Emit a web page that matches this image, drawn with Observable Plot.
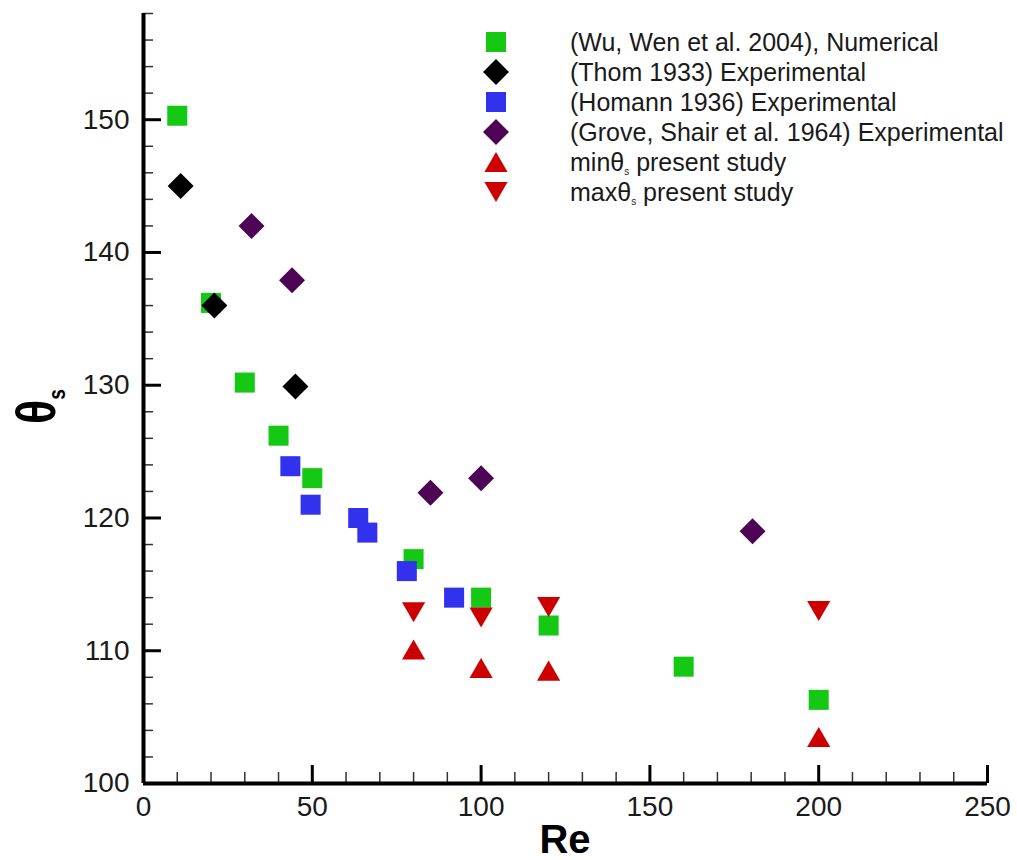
<!DOCTYPE html>
<html>
<head>
<meta charset="utf-8">
<script src="https://cdn.jsdelivr.net/npm/d3@7"></script>
<script src="https://cdn.jsdelivr.net/npm/@observablehq/plot@0.6"></script>
<style>
  html, body { margin: 0; padding: 0; background: #fff; }
  #wrap { position: relative; width: 1017px; height: 860px; }
</style>
</head>
<body>
<div id="wrap"></div>
<script>
// ---- data ----
const wuRe      = [10, 20, 30, 40, 50, 80, 100, 120, 160, 200];
const wuTheta   = [150.3, 136.2, 130.2, 126.2, 123.0, 116.9, 114.0, 111.9, 108.8, 106.3];
const thomRe    = [11, 21, 45];
const thomTheta = [145.0, 136.0, 129.9];
const homRe     = [43.5, 49.5, 63.6, 66.3, 78, 92];
const homTheta  = [123.9, 121.0, 120.0, 118.9, 116.0, 114.0];
const groveRe   = [32, 44, 85, 100, 180.4];
const groveTheta= [142.0, 137.9, 121.9, 123.0, 119.0];
const minRe     = [80, 100, 120, 200];
const minTheta  = [110.1, 108.7, 108.5, 103.5];
const maxRe     = [80, 100, 120, 200];
const maxTheta  = [112.9, 112.5, 113.3, 113.0];

const seriesNames = [
  "(Wu, Wen et al. 2004), Numerical",
  "(Thom 1933) Experimental",
  "(Homann 1936) Experimental",
  "(Grove, Shair et al. 1964) Experimental",
  "minθs present study",
  "maxθs present study"
];
const seriesColors = ["#14c814", "#000000", "#3232ee", "#4e0454", "#cc0000", "#cc0000"];

const xTickLabels = [0, 50, 100, 150, 200, 250];
const yTickLabels = [100, 110, 120, 130, 140, 150];
const xMinorTicks = d3.range(10, 250, 10).filter(v => v % 50 !== 0);
const yMinorTicks = d3.range(102, 159, 2).filter(v => v % 10 !== 0);
const xMajorTicks = [50, 100, 150, 200, 250];
const yMajorTicks = [110, 120, 130, 140, 150];

// ---- symbols ----
const triUp = {draw(ctx, size) {
  const a = Math.sqrt(4 * size / Math.sqrt(3)), h = a * Math.sqrt(3) / 2;
  ctx.moveTo(0, -h / 2); ctx.lineTo(a / 2, h / 2); ctx.lineTo(-a / 2, h / 2); ctx.closePath();
}};
const triDown = {draw(ctx, size) {
  const a = Math.sqrt(4 * size / Math.sqrt(3)), h = a * Math.sqrt(3) / 2;
  ctx.moveTo(0, h / 2); ctx.lineTo(a / 2, -h / 2); ctx.lineTo(-a / 2, -h / 2); ctx.closePath();
}};
const seriesSymbols = [d3.symbolSquare, d3.symbolDiamond2, d3.symbolSquare, d3.symbolDiamond2, triUp, triDown];
const seriesR = [11.3, 11.7, 11.3, 11.7, 8.6, 8.6];

const xs = [wuRe, thomRe, homRe, groveRe, minRe, maxRe];
const ys = [wuTheta, thomTheta, homTheta, groveTheta, minTheta, maxTheta];
const series = seriesNames.map((name, i) => ({
  name, color: seriesColors[i], symbol: seriesSymbols[i], r: seriesR[i],
  data: xs[i].map((x, j) => ({x, y: ys[i][j]}))
}));

// ---- layout ----
const W = 1017, H = 860;
const mL = 143, mR = 30, mT = 13, mB = 77;
const plotW = W - mL - mR, plotH = H - mT - mB;
const font = "'Liberation Sans', Arial, Helvetica, sans-serif";

const marks = [
  Plot.tickY(yMinorTicks, {y: d => d, insetRight: plotW - 10, stroke: "#333", strokeWidth: 1.5}),
  Plot.tickY(yMajorTicks, {y: d => d, insetRight: plotW - 18, stroke: "#000", strokeWidth: 3}),
  Plot.tickX(xMinorTicks, {x: d => d, insetTop: plotH - 11, stroke: "#333", strokeWidth: 1.5}),
  Plot.tickX(xMajorTicks, {x: d => d, insetTop: plotH - 18, stroke: "#000", strokeWidth: 3}),
  Plot.ruleX([0], {stroke: "#000", strokeWidth: 4}),
  Plot.ruleY([100], {stroke: "#000", strokeWidth: 4}),
  ...series.map(s => Plot.dot(s.data, {x: "x", y: "y", symbol: s.symbol, r: s.r, fill: s.color, stroke: "none"}))
];

const svg = Plot.plot({
  width: W, height: H,
  marginLeft: mL, marginRight: mR, marginTop: mT, marginBottom: mB,
  style: {fontFamily: font, fontSize: "28px", color: "#1a1a1a", background: "#fff", overflow: "visible"},
  x: {domain: [0, 250], ticks: xTickLabels, tickSize: 0, tickPadding: 13, label: null},
  y: {domain: [100, 158], ticks: yTickLabels, tickSize: 0, tickPadding: 14, label: null},
  marks
});
document.getElementById("wrap").appendChild(svg);

// ---- titles and legend ----
const root = d3.select(svg);
root.append("text")
  .attr("x", mL + plotW / 2).attr("y", 853)
  .attr("text-anchor", "middle")
  .attr("font-family", font).attr("font-weight", "bold").attr("font-size", 40)
  .attr("fill", "#000")
  .text("Re");

const yt = root.append("text")
  .attr("transform", "translate(55,424) rotate(-90) scale(0.8,1)")
  .attr("text-anchor", "start")
  .attr("font-family", font).attr("font-weight", "bold").attr("font-size", 56)
  .attr("fill", "#000");
yt.append("tspan").text("θ");
yt.append("tspan").attr("font-size", 24).attr("dy", 10).text("s");

const lg = root.append("g").attr("text-anchor", "start");
series.forEach((s, i) => {
  const cy = 42 + 30 * i;
  lg.append("path")
    .attr("transform", `translate(496,${cy})`)
    .attr("d", d3.symbol().type(s.symbol).size(Math.PI * s.r * s.r)())
    .attr("fill", s.color);
  const t = lg.append("text")
    .attr("x", 570).attr("y", cy + 9)
    .attr("text-anchor", "start")
    .attr("font-family", font).attr("font-size", 25).attr("fill", "#1a1a1a");
  const m = s.name.match(/^(.*θ)s( .*)$/);
  if (m) {
    t.append("tspan").text(m[1]);
    t.append("tspan").attr("font-size", 10).attr("dy", 4).text("s");
    t.append("tspan").attr("dy", -4).text(m[2]);
  } else {
    t.text(s.name);
  }
});
</script>
</body>
</html>
